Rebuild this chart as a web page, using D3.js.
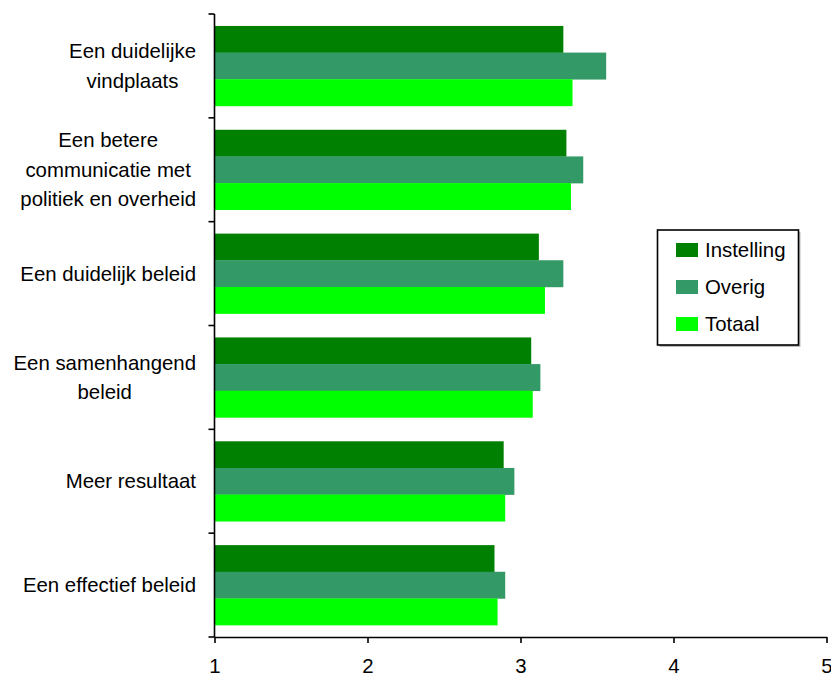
<!DOCTYPE html>
<html>
<head>
<meta charset="utf-8">
<script src="https://cdn.jsdelivr.net/npm/d3@7"></script>
<style>
  html, body { margin: 0; padding: 0; background: #fff; }
  svg { display: block; }
  text { font-family: "Liberation Sans", Arial, sans-serif; fill: #000; }
</style>
</head>
<body>
<svg id="chart" width="831" height="678"></svg>
<script>
// ---- Data ----
const categories = [
  ["Een duidelijke", "vindplaats"],
  ["Een betere", "communicatie met", "politiek en overheid"],
  ["Een duidelijk beleid"],
  ["Een samenhangend", "beleid"],
  ["Meer resultaat"],
  ["Een effectief beleid"]
];
const seriesNames = ["Instelling", "Overig", "Totaal"];
const seriesColors = ["#008000", "#339966", "#00FF00"];
const instelling = [3.28, 3.30, 3.12, 3.07, 2.89, 2.83];
const overig     = [3.56, 3.41, 3.28, 3.13, 2.96, 2.90];
const totaal     = [3.34, 3.33, 3.16, 3.08, 2.90, 2.85];
const xTicks = [1, 2, 3, 4, 5];

const seriesValues = [instelling, overig, totaal];
const catKeys = categories.map(c => c.join(" "));
const FS = "20.4px";

// ---- Layout ----
const svg = d3.select("#chart");
const plotL = 214.5, plotR = 826.5, plotT = 14, plotB = 637;

const x = d3.scaleLinear().domain([1, 5]).range([plotL, plotR]);
const y = d3.scaleBand().domain(catKeys).range([plotT, plotB])
  .paddingInner(0.23).paddingOuter(0.115);
const ySub = d3.scaleBand().domain(seriesNames).range([0, y.bandwidth()]).padding(0);

// ---- Bars ----
const groups = svg.append("g").selectAll("g")
  .data(catKeys).join("g")
  .attr("transform", d => `translate(0,${y(d)})`);

groups.selectAll("rect")
  .data((d, i) => seriesNames.map((s, j) => ({ s, j, v: seriesValues[j][i] })))
  .join("rect")
  .attr("x", x(1))
  .attr("y", d => ySub(d.s))
  .attr("width", d => x(d.v) - x(1))
  .attr("height", ySub.bandwidth() + 0.3)
  .attr("fill", d => seriesColors[d.j]);

// ---- X axis ----
const xAxis = svg.append("g")
  .attr("transform", `translate(0,${plotB})`)
  .call(d3.axisBottom(x).tickValues(xTicks).tickFormat(d3.format("d")).tickSize(6).tickSizeOuter(0));
xAxis.attr("font-size", null).attr("font-family", null);
xAxis.select(".domain").attr("stroke", "#000").attr("stroke-width", 1.6);
xAxis.selectAll(".tick line").attr("stroke", "#000").attr("stroke-width", 1.6);
xAxis.selectAll(".tick text")
  .attr("y", 22).attr("dy", "0.71em")
  .style("font-size", FS);

// ---- Y axis (line + boundary ticks) ----
const yAxis = svg.append("g");
yAxis.append("line")
  .attr("x1", plotL).attr("x2", plotL)
  .attr("y1", plotT).attr("y2", plotB)
  .attr("stroke", "#000").attr("stroke-width", 1.6);
const step = y.step();
const boundaries = catKeys.map(k => y(k) - y.paddingInner() * step / 2);
boundaries.push(plotB);
yAxis.selectAll("line.tick")
  .data(boundaries).join("line")
  .attr("class", "tick")
  .attr("x1", plotL - 6).attr("x2", plotL)
  .attr("y1", d => d).attr("y2", d => d)
  .attr("stroke", "#000").attr("stroke-width", 1.6);

// ---- Category labels ----
const lineH = 29.5;
const labelRight = 196;
categories.forEach((lines, i) => {
  const cy = y(catKeys[i]) + y.bandwidth() / 2;
  const tmp = svg.append("text").style("font-size", FS);
  let maxW = 0;
  lines.forEach(l => { tmp.text(l); maxW = Math.max(maxW, tmp.node().getComputedTextLength()); });
  tmp.remove();
  const cx = labelRight - maxW / 2;
  const y0 = cy - (lines.length - 1) * lineH / 2;
  const t = svg.append("text")
    .style("font-size", FS)
    .attr("text-anchor", "middle");
  lines.forEach((l, k) => {
    t.append("tspan")
      .attr("x", cx)
      .attr("y", y0 + k * lineH)
      .attr("dy", "0.35em")
      .text(l);
  });
});

// ---- Legend ----
const lg = svg.append("g");
const lx = 657.5, ly = 230, lw = 141, lh = 115;
lg.append("rect").attr("x", lx + 2).attr("y", ly + 2).attr("width", lw).attr("height", lh)
  .attr("fill", "#bbb");
lg.append("rect").attr("x", lx).attr("y", ly).attr("width", lw).attr("height", lh)
  .attr("fill", "#fff").attr("stroke", "#000").attr("stroke-width", 1.6);
seriesNames.forEach((s, i) => {
  const yy = 250 + i * 37;
  lg.append("rect").attr("x", 676).attr("y", yy - 7).attr("width", 22).attr("height", 14)
    .attr("fill", seriesColors[i]);
  lg.append("text").attr("x", 705).attr("y", yy).attr("dy", "0.35em")
    .style("font-size", FS).text(s);
});
</script>
</body>
</html>
